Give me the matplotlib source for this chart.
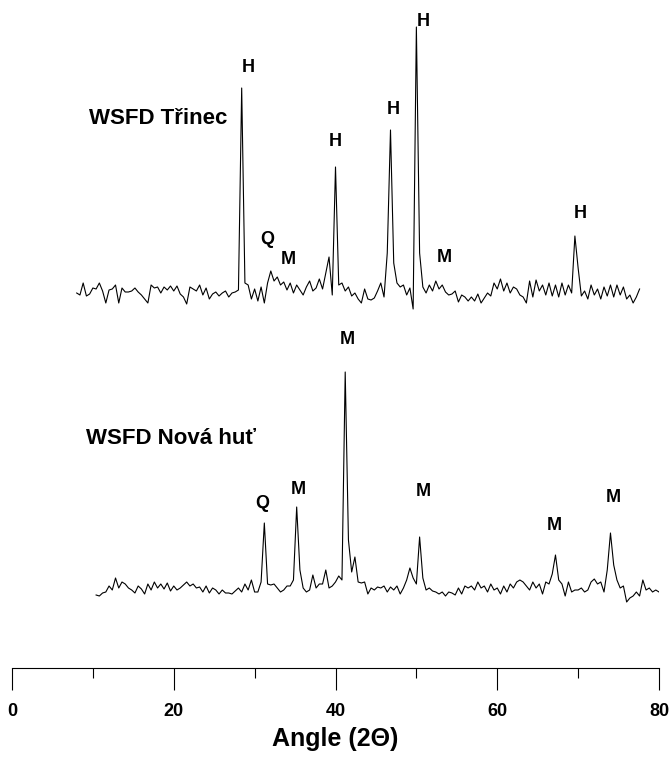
"""
XRD-Diffraktogramme der WSFD-Proben (Třinec / Nová huť).
H = Hämatit, M = Magnetit, Q = Quarz
"""

import numpy as np
import matplotlib.pyplot as plt

plt.rcParams["font.family"] = ["Liberation Sans", "DejaVu Sans"]
plt.rcParams["font.weight"] = "bold"

# --- Třinec: 2Θ ab 8.0°, Schritt 0.4°, Intensität (willk. Einheiten, ab Untergrund)
TRINEC_START = 8.0
TRINEC_INT = [
    0, -2, 10, -3, -1, 5, 4, 10, 2, -10,        # 8.0
    3, 4, 8, -10, 5, 1, 1, 2, 5, 1,             # 12.0
    -2, -6, -10, 8, 5, 6, 0, 6, 3, 7,           # 16.0
    2, 7, -1, -4, -11, 6, 4, 2, 8, -2,          # 20.0
    5, -6, -1, 1, -3, 0, 2, -4, 0, 1,           # 24.0
    3, 205, 10, 8, -6, 4, -8, 6, -10, 10,       # 28.0
    22, 12, 16, 8, 11, 3, 10, 0, 8, 3,          # 32.0
    -2, 6, 12, 2, 5, 14, 4, 20, 36, -2,         # 36.0
    126, 8, 10, 2, 6, -3, 0, -6, -10, 4,        # 40.0
    -6, -7, -5, 2, 10, -4, 40, 163, 30, 10,     # 44.0
    6, 8, -2, 5, -16, 266, 40, 6, 0, 8,         # 48.0
    2, 12, 4, 8, 1, -2, -1, 2, -9, -2,          # 52.0
    -4, -8, -4, -8, -1, -10, -5, 0, -3, 10,     # 56.0
    4, 14, 2, 10, 0, 6, 4, -2, -4, -10,         # 60.0
    12, -4, 13, 2, 8, -2, 10, -3, 8, -4,        # 64.0
    10, -2, 8, 0, 57, 25, -3, 2, -6, 8,         # 68.0
    -2, 4, -6, 6, -3, 8, -4, 8, -2, 6,          # 72.0
    -6, -2, -10, -4, 4,                         # 76.0
]

# --- Nová huť: 2Θ ab 10.4°, Schritt 0.4°
NOVAHUT_START = 10.4
NOVAHUT_INT = [
    -5, -6, -3, -2, 4, 0, 12, 2, 8, 6,          # 10.4
    2, 0, -3, 4, 1, -4, 6, 0, 8, 2,             # 14.4
    6, 1, 7, -1, 4, 0, 2, 5, 8, 4,              # 18.4
    6, 2, 3, -2, 4, -3, 2, 0, -4, 0,            # 22.4
    -3, -3, -4, -1, 2, -2, 6, 0, 10, -2,        # 26.4
    -2, 8, 67, 6, 5, 6, 2, -2, 0, 4,            # 30.4
    4, 10, 83, 20, 2, -2, 0, 15, 2, 6,          # 34.4
    6, 20, 2, 4, 8, 14, 10, 218, 50, 18,        # 38.4
    33, 8, 7, 8, -4, 2, 0, 3, 2, 4,             # 42.4
    -2, 3, 0, 4, -4, 2, 10, 22, 12, 6,          # 46.4
    53, 12, 0, 2, -1, -2, -4, -2, -6, -2,       # 50.4
    -3, -5, 2, -4, 4, 2, 4, 0, 8, 2,            # 54.4
    4, -2, 6, 0, 2, -4, 4, -2, 6, 2,            # 58.4
    8, 10, 8, 4, 0, 8, 2, 6, -4, 8,             # 62.4
    6, 16, 35, 10, 6, -6, 8, -2, 0, 0,          # 66.4
    2, -2, 0, 8, 11, 6, 8, -2, 20, 57,          # 70.4
    25, 10, 2, 4, -12, -8, -6, -2, -6, 10,      # 74.4
    0, 2, -2, 0, -2,                            # 78.4
]
STEP = 0.4

# Peak-Beschriftungen (2Θ, Höhe über Untergrund, Phase)
TRINEC_PEAK_X = [29.2, 31.6, 34.2, 40.0, 47.1, 50.8, 53.5, 70.3]
TRINEC_PEAK_Y = [226, 53, 33, 151, 183, 271, 35, 79]
TRINEC_PEAK_LBL = ["H", "Q", "M", "H", "H", "H", "M", "H"]

NOVAHUT_PEAK_X = [30.9, 35.4, 41.4, 50.9, 67.1, 74.3]
NOVAHUT_PEAK_Y = [87, 100, 251, 99, 64, 93]
NOVAHUT_PEAK_LBL = ["Q", "M", "M", "M", "M", "M"]

OFFSET_TRINEC = 375
OFFSET_NOVAHUT = 78

W, H = 672, 759
fig = plt.figure(figsize=(W / 100, H / 100), dpi=100)
ax = fig.add_axes([12 / W, 91 / H, 647 / W, 668 / H])

x_tr = np.round(TRINEC_START + STEP * np.arange(len(TRINEC_INT)), 1)
x_nh = np.round(NOVAHUT_START + STEP * np.arange(len(NOVAHUT_INT)), 1)

ax.plot(x_tr, np.array(TRINEC_INT) + OFFSET_TRINEC, color="black", lw=0.8)
ax.plot(x_nh, np.array(NOVAHUT_INT) + OFFSET_NOVAHUT, color="black", lw=0.8)

for xp, yp, lbl in zip(TRINEC_PEAK_X, TRINEC_PEAK_Y, TRINEC_PEAK_LBL):
    ax.text(xp, yp + OFFSET_TRINEC, lbl, ha="center", va="center",
            fontsize=13, fontweight="bold")
for xp, yp, lbl in zip(NOVAHUT_PEAK_X, NOVAHUT_PEAK_Y, NOVAHUT_PEAK_LBL):
    ax.text(xp, yp + OFFSET_NOVAHUT, lbl, ha="center", va="center",
            fontsize=13, fontweight="bold")

ax.text(18.1, OFFSET_TRINEC + 175, "WSFD Třinec", ha="center", va="center",
        fontsize=16, fontweight="bold")
ax.text(19.7, OFFSET_NOVAHUT + 152, "WSFD Nová huť", ha="center", va="center",
        fontsize=16, fontweight="bold")

ax.set_xlim(0, 80)
ax.set_ylim(0, 668)
for side in ("top", "left", "right"):
    ax.spines[side].set_visible(False)
ax.spines["bottom"].set_linewidth(0.8)
ax.set_yticks([])
ax.set_xticks([0, 20, 40, 60, 80])
ax.set_xticks([10, 30, 50, 70], minor=True)
ax.tick_params(axis="x", which="major", direction="out", length=16, width=0.8,
               labelsize=13, pad=9)
ax.tick_params(axis="x", which="minor", direction="out", length=7, width=0.8)
for lab in ax.get_xticklabels():
    lab.set_fontweight("bold")
ax.set_xlabel("Angle (2Θ)", fontsize=18, fontweight="bold", labelpad=5)

fig.savefig("out.png", dpi=100)
